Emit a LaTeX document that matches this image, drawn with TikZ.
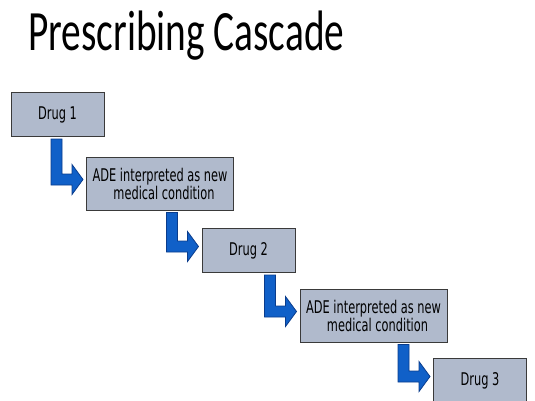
\documentclass[tikz,border=0pt]{standalone}
\usepackage{fontspec}
\usetikzlibrary{calc}
\newfontfamily\titlefont{Carlito}
\newfontfamily\boxfont{DejaVu Sans}
\definecolor{boxgray}{HTML}{B0BACC}
\definecolor{boxline}{HTML}{3A3A3A}
\definecolor{arrowblue}{HTML}{1060C8}
\definecolor{arrowline}{HTML}{0A3C8C}
\newcommand{\narrow}[1]{\scalebox{0.65}[1]{#1}}
% seta dobrada: desce da caixa #1 e aponta para a caixa #2
\newcommand{\bentarrow}[2]{%
	\filldraw[cascade arrow] let \p1 = (#1.south), \p2 = (#2.west) in
		({\x2-35pt}, {\y1-2pt}) -- ({\x2-24pt}, {\y1-2pt}) -- ({\x2-24pt}, {\y2+9.5pt}) -- ({\x2-14pt}, {\y2+9.5pt})
		-- ({\x2-14pt}, {\y2+19pt}) -- ({\x2-3pt}, {\y2+4pt}) -- ({\x2-14pt}, {\y2-11pt}) -- ({\x2-14pt}, {\y2-1.5pt})
		-- ({\x2-35pt}, {\y2-1.5pt}) -- cycle;%
}

\begin{document}
\begin{tikzpicture}[x = 1pt, y = -1pt,
	drugbox/.style = {draw = boxline, fill = boxgray, line width = 1pt, minimum width = 93pt, minimum height = 44pt, inner sep = 0pt, font = \boxfont\fontsize{17.5}{18}\selectfont},
	adebox/.style = {drugbox, minimum width = 147pt, minimum height = 53pt, align = center},
	cascade arrow/.style = {fill = arrowblue, draw = arrowline, line width = 0.8pt, line join = miter}]

	\useasboundingbox (0, 0) rectangle (535, 400); % área total

	\node[anchor = base west, inner sep = 0pt, font = \titlefont\fontsize{57}{60}\selectfont] (title) at (28, 50) {\scalebox{0.69}[1]{Prescribing Cascade}};

	\node[drugbox] (drug1) at ( 57.5, 114.5) {\narrow{Drug 1}};
	\node[adebox]  (ade1)  at (160.0, 183.5) {\narrow{ADE interpreted as new}\\\hspace*{8pt}\narrow{medical condition}};
	\node[drugbox] (drug2) at (248.5, 250.5) {\narrow{Drug 2}};
	\node[adebox]  (ade2)  at (373.5, 315.5) {\narrow{ADE interpreted as new}\\\hspace*{8pt}\narrow{medical condition}};
	\node[drugbox] (drug3) at (480.0, 380.5) {\narrow{Drug 3}};

	\bentarrow{drug1}{ade1}
	\bentarrow{ade1}{drug2}
	\bentarrow{drug2}{ade2}
	\bentarrow{ade2}{drug3}

\end{tikzpicture}
\end{document}
